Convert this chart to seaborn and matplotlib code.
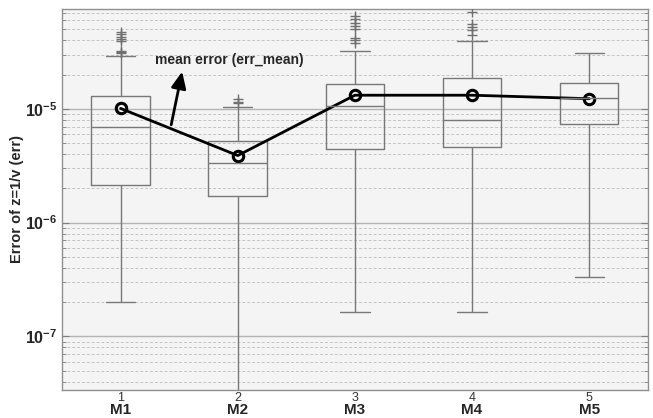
import numpy as np
import pandas as pd
import matplotlib
matplotlib.use("Agg")
import matplotlib.pyplot as plt
import seaborn as sns

MODELS = ["M1", "M2", "M3", "M4", "M5"]
TICK_NUMS = ["1", "2", "3", "4", "5"]

# box summary: lower whisker, q1, median, q3, upper whisker
whis_lo = [2.0e-7, 1.0e-8, 1.64e-7, 1.64e-7, 3.35e-7]
q1 = [2.15e-6, 1.72e-6, 4.45e-6, 4.64e-6, 7.38e-6]
median = [6.95e-6, 3.33e-6, 1.07e-5, 8.0e-6, 1.24e-5]
q3 = [1.31e-5, 5.2e-6, 1.65e-5, 1.88e-5, 1.69e-5]
whis_hi = [2.9e-5, 1.035e-5, 3.21e-5, 3.99e-5, 3.09e-5]

# mean error per model
err_mean = [1.01e-5, 3.89e-6, 1.32e-5, 1.32e-5, 1.23e-5]

# outliers ('+')
fliers = {
    "M1": [4.75e-5, 4.54e-5, 4.33e-5, 4.10e-5, 3.94e-5, 3.26e-5, 3.15e-5, 3.09e-5],
    "M2": [1.22e-5, 1.15e-5, 1.12e-5],
    "M3": [6.58e-5, 6.15e-5, 5.67e-5, 5.37e-5, 5.08e-5, 4.24e-5, 4.04e-5, 3.83e-5],
    "M4": [7.18e-5, 5.56e-5, 5.30e-5, 4.92e-5, 4.45e-5],
    "M5": [],
}

box_df = pd.DataFrame({
    "model": np.repeat(MODELS, 5),
    "err": np.ravel(np.column_stack([whis_lo, q1, median, q3, whis_hi])),
})
flier_df = pd.DataFrame(
    [(m, v) for m in MODELS for v in fliers[m]], columns=["model", "err"]
)
mean_df = pd.DataFrame({"model": MODELS, "err": err_mean})

sns.set_style("white")
plt.rcParams["font.family"] = ["Liberation Sans", "DejaVu Sans"]
plt.rcParams["mathtext.fontset"] = "custom"
plt.rcParams["mathtext.rm"] = "Liberation Sans"
plt.rcParams["mathtext.bf"] = "Liberation Sans:bold"

fig = plt.figure(figsize=(6.53, 4.18), dpi=100)
ax = fig.add_axes([0.095, 0.068, 0.897, 0.911])
ax.set_facecolor("#f4f4f4")
ax.set_yscale("log")

box_color = "#787878"
sns.boxplot(
    data=box_df, x="model", y="err", order=MODELS, ax=ax,
    whis=np.inf, width=0.5, fill=False, color=box_color, linewidth=1.0,
    showfliers=False,
    medianprops={"color": box_color, "linewidth": 1.0},
)
sns.stripplot(
    data=flier_df, x="model", y="err", order=MODELS, ax=ax,
    jitter=False, marker="+", color="#707070", size=7, linewidth=1.0,
)
sns.pointplot(
    data=mean_df, x="model", y="err", order=MODELS, ax=ax,
    color="black", markers="o", linewidth=2.0, markersize=7.5,
    markerfacecolor="none", markeredgewidth=2.2, errorbar=None,
)

ax.set_xlim(-0.5, 4.5)
ax.set_ylim(3.4e-8, 7.6e-5)

# grid: solid at decades, dashed in between
ax.grid(True, which="major", axis="y", color="#b4b4b4", linewidth=1.0, linestyle="-")
ax.grid(True, which="minor", axis="y", color="#c4c4c4", linewidth=0.7, linestyle=(0, (3, 2)))
ax.grid(False, axis="x")
ax.set_axisbelow(True)

ax.set_yticks([1e-7, 1e-6, 1e-5])
ax.set_yticklabels([r"$\mathbf{10^{-7}}$", r"$\mathbf{10^{-6}}$", r"$\mathbf{10^{-5}}$"],
                   fontsize=11.5)
ax.tick_params(axis="y", which="both", direction="in", left=True, right=True,
               color="#808080")
ax.tick_params(axis="y", which="major", length=5)
ax.tick_params(axis="y", which="minor", length=3)
ax.tick_params(axis="x", length=0, pad=2)
ax.set_xticks(range(len(MODELS)))
ax.set_xticklabels(TICK_NUMS, fontsize=9, color="#333333")

for i, m in enumerate(MODELS):
    ax.text(i, -0.054, m, transform=ax.get_xaxis_transform(), ha="center",
            va="center", fontsize=11, fontweight="bold")

for s in ax.spines.values():
    s.set_color("#909090")
    s.set_linewidth(1.0)

ax.set_xlabel("")
ax.set_ylabel("Error of z=1/v (err)", fontsize=10.5, fontweight="bold")
ax.yaxis.set_label_coords(-0.065, 0.5)

ax.annotate(
    "", xy=(0.53, 2.25e-5), xytext=(0.427, 6.86e-6),
    arrowprops=dict(arrowstyle="-|>,head_width=0.45,head_length=1.0",
                    color="black", linewidth=2.0),
)
ax.text(0.29, 2.7e-5, "mean error (err_mean)", fontsize=10, fontweight="bold",
        ha="left", va="center")

fig.savefig("out.png", dpi=100)
